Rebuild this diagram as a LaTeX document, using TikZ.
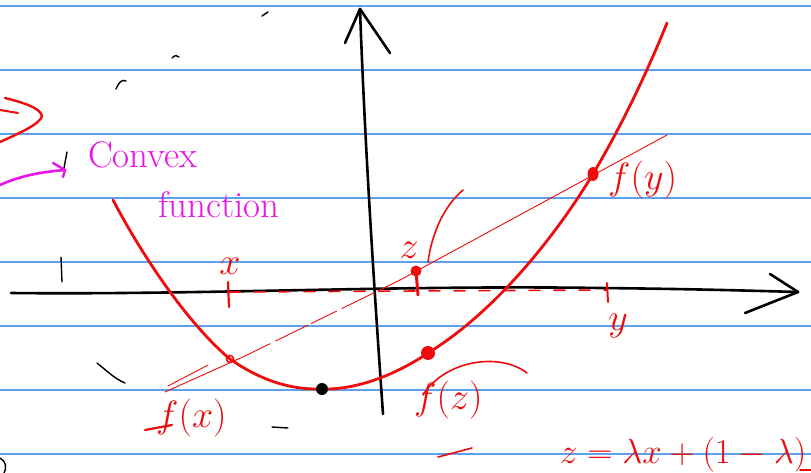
\RequirePackage{fix-cm}
\documentclass[tikz,border=0pt]{standalone}
\usetikzlibrary{calc}
\definecolor{ruleblue}{RGB}{95,160,235}
\definecolor{ink}{RGB}{238,12,12}
\definecolor{mag}{RGB}{232,20,232}
\tikzset{
  ruleline/.style={draw=ruleblue,line width=2.2pt},
  axis/.style={black,line width=2.6pt,line cap=round,line join=round},
  curve/.style={ink,line width=2.8pt,line cap=round},
  thin/.style={ink,line width=0.9pt,line cap=round},
  redstroke/.style={ink,line width=1.6pt,line cap=round},
  scrib/.style={black,line width=1.4pt,line cap=round},
  redlbl/.style={ink,inner sep=0pt,font=\fontsize{38}{40}\selectfont},
  eqlbl/.style={ink,inner sep=0pt,font=\fontsize{35}{37}\selectfont},
  maglbl/.style={mag,inner sep=0pt,font=\fontsize{37}{39}\selectfont},
}
\begin{document}
\begin{tikzpicture}[x=1pt,y=-1pt]
\useasboundingbox (0,0) rectangle (811,473);
\fill[white] (0,0) rectangle (811,473);
% ruled lines
\foreach \yy in {5.8,69.8,133.8,197.8,261.8,325.8,389.8,453.8}
  \draw[ruleline] (0,\yy) -- (811,\yy);
% axes
\coordinate (xs) at (11,293);
\coordinate (xe) at (798,292);
\coordinate (ys) at (383,414);
\coordinate (ye) at (360,9);
\draw[axis] (xs) .. controls (200,295) and (400,285) .. (600,288) .. controls (700,289) and (760,291) .. (xe);
\draw[axis] (770,274) -- (xe) -- (745,313);
\draw[axis] (ys) .. controls (375,300) and (365,150) .. (ye);
\draw[axis] (345,43) -- (ye) -- (390,53);
% stray black marks
\draw[scrib] (262,16) -- (268,12);
\draw[scrib] (172,58) .. controls (175,55) and (177,55) .. (179,57);
\draw[scrib] (116,89) .. controls (119,82) and (122,79) .. (126,81);
\draw[scrib] (61,257) -- (62,282);
\draw[scrib] (97,363) .. controls (107,371) and (115,379) .. (125,383);
\draw[scrib] (272,427) -- (288,428);
\draw[scrib] (67,152) -- (64,168);
\draw[scrib] (0,458) .. controls (6,461) and (7,468) .. (4,473);
% red dashes along x axis
\coordinate (xt) at (229,292);
\coordinate (yt) at (607,290);
\draw[redstroke,dash pattern=on 11pt off 14pt] (xt) -- (yt);
% ticks
\draw[redstroke,line width=2.2pt] (228,282) -- (229,307);
\draw[redstroke,line width=2pt] (607,283) -- (608,302);
% chord through f(x) and f(y)
\coordinate (ca) at (165,392);
\coordinate (cb) at (667,135);
\draw[thin] (ca) -- (245,356);
\draw[thin] (168,386) -- (208,365);
\draw[thin,dash pattern=on 28pt off 6pt on 36pt off 4pt] (245,356) -- (400,280);
\draw[thin] (400,280) -- (cb);
% convex curve
\coordinate (fx) at (230,359);
\coordinate (fy) at (593,174);
\coordinate (fz) at (428,353);
\coordinate (zp) at (416,271);
\coordinate (mn) at (322,389);
\draw[curve] (113,200) .. controls (150,270) and (195,330) .. (fx)
  .. controls (260,380) and (290,390) .. (mn)
  .. controls (360,390) and (400,372) .. (fz)
  .. controls (490,315) and (550,245) .. (fy)
  .. controls (625,120) and (650,65) .. (667,23);
% points
\draw[ink,line width=1.6pt] (fx) circle (3.5pt);
\fill[ink] (fy) ellipse (5.5pt and 7pt);
\fill[ink] (fz) circle (7pt);
\fill[ink] (zp) circle (5.5pt);
\draw[redstroke,line width=3pt] (zp) -- (418,295);
\fill[black] (mn) circle (6pt);
% labels
\node[redlbl] (lx) at (230,266) {$x$};
\node[redlbl] (lz) at (409,250) {$z$};
\draw[redstroke] (428,262) .. controls (432,232) and (445,205) .. (463,190);
\node[redlbl,anchor=west] (lfy) at (608,180) {$f(y)$};
\node[redlbl] (ly) at (618,326) {$y$};
\node[redlbl,anchor=west] (lfz) at (414,400) {$f(z)$};
\draw[redstroke] (423,395) .. controls (445,360) and (500,352) .. (527,373);
\draw[redstroke] (438,457) -- (472,448);
\node[redlbl,anchor=west] (lfx) at (156,418) {$f(x)$};
\draw[redstroke,line width=2.2pt] (145,430) -- (172,425);
\node[eqlbl,anchor=west] (eq) at (560,455) {$z=\lambda x+(1-\lambda)$};
\draw[redstroke] (800,470) -- (811,470);
% magenta
\node[maglbl,anchor=west] (cv) at (88,155) {Convex};
\node[maglbl,anchor=west] (fn) at (158,205) {function};
\coordinate (ms) at (0,185);
\coordinate (mt) at (65,170);
\draw[mag,line width=2.6pt,line cap=round] (ms) .. controls (20,176) and (40,172) .. (mt);
\draw[mag,line width=2.4pt,line cap=round] (53,163) -- (mt) -- (63,177);
% red > at left
\draw[ink,line width=2.4pt,line cap=round,line join=round] (5,98) .. controls (25,103) and (40,108) .. (42,116) .. controls (40,124) and (20,133) .. (0,142);
\draw[ink,line width=2pt,line cap=round] (0,110) -- (18,113);
\end{tikzpicture}
\end{document}
